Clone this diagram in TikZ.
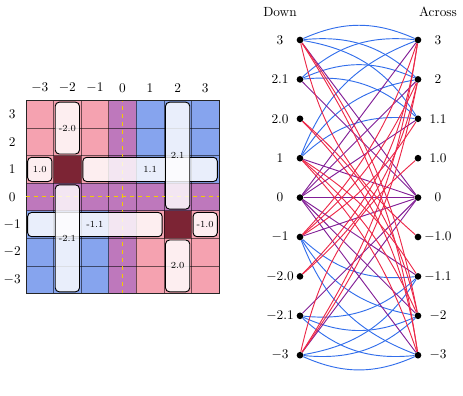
\documentclass[tikz,border=0pt]{standalone}
\usepackage{tikz}
\usetikzlibrary{backgrounds}
\definecolor{cellRed}{RGB}{245,162,176}
\definecolor{cellBlue}{RGB}{134,164,238}
\definecolor{cellMix}{RGB}{190,120,188}
\definecolor{cellDark}{RGB}{124,36,52}
\definecolor{edgeBlue}{RGB}{50,110,235}
\definecolor{edgeRed}{RGB}{236,40,72}
\definecolor{edgePurple}{RGB}{130,30,150}
\definecolor{axisGold}{RGB}{242,204,0}

\begin{document}
\begin{tikzpicture}[
  word box/.style={draw, line width=0.7pt, rounded corners=3pt, fill=white, fill opacity=0.82},
  word label/.style={font=\scriptsize, inner sep=1pt},
  dot/.style={circle, fill=black, inner sep=0pt, minimum size=5pt},
  blue edge/.style={edgeBlue, line width=0.7pt},
  red edge/.style={edgeRed, line width=0.7pt},
  purple edge/.style={edgePurple, line width=0.7pt}
]
  \useasboundingbox (-3.241,-5.239) rectangle (9.009,5.212);

  % Grid of cells
  \begin{scope}[x=0.7294cm, y=0.7294cm]
    \fill[cellRed] (-3.5,0.5) rectangle (-0.5,3.5);
    \fill[cellRed] (0.5,-3.5) rectangle (3.5,-0.5);
    \fill[cellBlue] (0.5,0.5) rectangle (3.5,3.5);
    \fill[cellBlue] (-3.5,-3.5) rectangle (-0.5,-0.5);
    \fill[cellMix] (-0.5,-3.5) rectangle (0.5,3.5);
    \fill[cellMix] (-3.5,-0.5) rectangle (3.5,0.5);
    \fill[cellDark] (-2.5,0.5) rectangle (-1.5,1.5);
    \fill[cellDark] (1.5,-1.5) rectangle (2.5,-0.5);
    \foreach \k in {-2.5,-1.5,...,2.5} {
      \draw[black, draw opacity=0.55, line width=0.5pt] (\k,-3.5) -- (\k,3.5);
      \draw[black, draw opacity=0.55, line width=0.5pt] (-3.5,\k) -- (3.5,\k);
    }
    \draw[black!85, line width=0.6pt] (-3.5,-3.5) rectangle (3.5,3.5);
    \draw[axisGold, dashed, line width=0.8pt] (0,-3.5) -- (0,3.5);
    \draw[axisGold, dashed, line width=0.8pt] (-3.5,0.02) -- (3.5,0.02);

    \foreach \k [count=\i] in {-3,...,3} {
      \node (col\i) at (\k,3.95) {$\k$};
      \node (row\i) at (-4,\k) {$\k$};
    }

    % Across words
    \draw[word box] (-3.44,0.56) rectangle (-2.56,1.44);
    \draw[word box] (-1.44,0.56) rectangle (3.44,1.44);
    \draw[word box] (-3.44,-1.44) rectangle (1.44,-0.56);
    \draw[word box] (2.56,-1.44) rectangle (3.44,-0.56);
    % Down words
    \draw[word box] (-2.44,1.56) rectangle (-1.56,3.44);
    \draw[word box] (-2.44,-3.44) rectangle (-1.56,0.44);
    \draw[word box] (1.56,-0.44) rectangle (2.44,3.44);
    \draw[word box] (1.56,-3.44) rectangle (2.44,-1.56);

    \node[word label] (w10) at (-3,1) {1.0};
    \node[word label] (w11) at (1,1) {1.1};
    \node[word label] (wm11) at (-1,-1) {-1.1};
    \node[word label] (wm10) at (3,-1) {-1.0};
    \node[word label] (wm20) at (-2,2.5) {-2.0};
    \node[word label] (wm21) at (-2,-1.5) {-2.1};
    \node[word label] (w21) at (2,1.5) {2.1};
    \node[word label] (w20) at (2,-2.5) {2.0};
  \end{scope}

  % Crossing graph
  \node (down) at (4.167,4.895) {Down};
  \node (across) at (8.347,4.895) {Across};
  \foreach \n/\t [count=\i from 0] in {d3/3, d21/2.1, d20/2.0, d1/1, d0/0, dm1/-1, dm20/-2.0, dm21/-2.1, dm3/-3} {
    \node[dot] (\n) at (4.696,4.154-1.0425*\i) {};
    \node (l\n) at (4.167,4.154-1.0425*\i) {$\t$};
  }
  \foreach \n/\t [count=\i from 0] in {a3/3, a2/2, a11/1.1, a10/1.0, a0/0, am10/-1.0, am11/-1.1, am2/-2, am3/-3} {
    \node[dot] (\n) at (7.818,4.154-1.0425*\i) {};
    \node (l\n) at (8.347,4.154-1.0425*\i) {$\t$};
  }

  \begin{scope}[on background layer]
    \foreach \s/\t in {d1/a3, d1/a2, d1/a11, d21/a3, d21/a2, d21/a11, d3/a3, d3/a2, d3/a11}
      \draw[blue edge] (\s) to[bend left=24] (\t);
    \foreach \s/\t in {dm3/am11, dm3/am2, dm3/am3, dm21/am11, dm21/am2, dm21/am3, dm1/am11, dm1/am2, dm1/am3}
      \draw[blue edge] (\s) to[bend right=24] (\t);
    \foreach \s/\t in {d0/a3, d0/a2, d0/a11, d0/a0, d0/am11, d0/am2, d0/am3, dm3/a0, dm21/a0, dm1/a0, d1/a0, d21/a0, d3/a0}
      \draw[purple edge] (\s) -- (\t);
    % pink cells, upper left
    \foreach \s/\t/\b in {dm3/a3/12, dm3/a2/12, dm3/a10/-18, dm1/a3/12, dm1/a2/12, dm1/a11/12, dm20/a3/18, dm20/a2/18}
      \draw[red edge] (\s) to[bend right=\b] (\t);
    % pink cells, lower right
    \foreach \s/\t/\b in {d1/am11/12, d1/am2/12, d1/am3/12, d3/am10/-18, d3/am2/12, d3/am3/12, d20/am2/18, d20/am3/18}
      \draw[red edge] (\s) to[bend left=\b] (\t);
  \end{scope}
\end{tikzpicture}
\end{document}
